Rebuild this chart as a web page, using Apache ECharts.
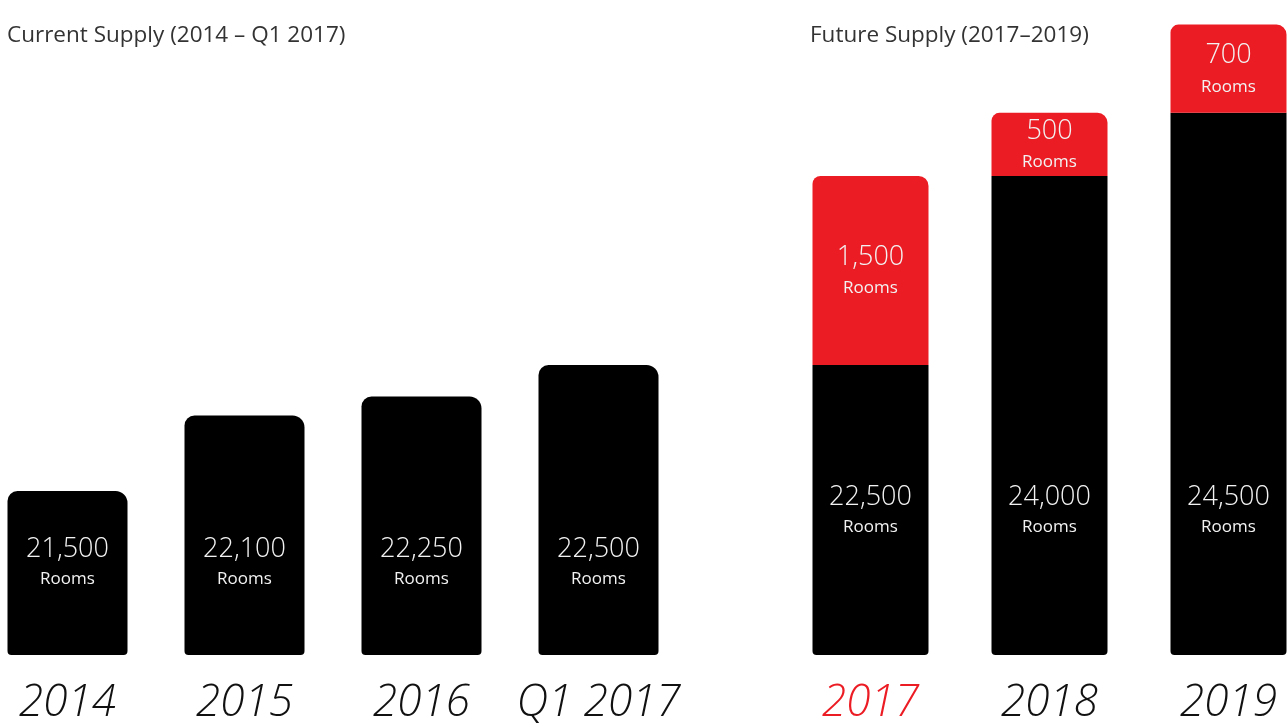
<!DOCTYPE html>
<html>
<head>
<meta charset="utf-8">
<script src="https://cdn.jsdelivr.net/npm/echarts@6/dist/echarts.min.js"></script>
<style>
html,body{margin:0;padding:0;background:#fff;}
#chart{width:1288px;height:725px;}
</style>
</head>
<body>
<div id="chart"></div>
<script>
// ---- data ----
const currentCategories = ['2014', '2015', '2016', 'Q1 2017'];
const currentRooms = [21500, 22100, 22250, 22500];
const futureCategories = ['2017', '2018', '2019'];
const futureExisting = [22500, 24000, 24500];
const futureAdded = [1500, 500, 700];
const titles = ['Current Supply (2014 – Q1 2017)', 'Future Supply (2017–2019)'];
const unitLabel = 'Rooms';

const RED = '#ec1c24';
const fmt = v => v.toLocaleString('en-US');

const chart = echarts.init(document.getElementById('chart'));

const yAxisBase = {
  type: 'value', min: 20200, max: 25300,
  show: false, splitLine: { show: false }
};
const xAxisBase = {
  type: 'category',
  axisLine: { show: false }, axisTick: { show: false },
  axisLabel: {
    interval: 0,
    fontFamily: 'Open Sans', fontStyle: 'italic', fontWeight: 300,
    fontSize: 44, color: '#111', margin: 26
  }
};
const richLabel = (valSize, gap) => ({
  v: { fontFamily: 'Open Sans', fontWeight: 300, fontSize: valSize, color: '#f2f2f2', lineHeight: gap },
  r: { fontFamily: 'Open Sans', fontWeight: 400, fontSize: 17, color: '#f2f2f2', lineHeight: 26 }
});
const titleStyle = { fontFamily: 'Open Sans', fontWeight: 400, fontSize: 22.5, color: '#333' };

chart.setOption({
  animation: false,
  title: [
    { text: titles[0], left: 2, top: 19, textStyle: titleStyle },
    { text: titles[1], left: 805, top: 19, textStyle: titleStyle }
  ],
  grid: [
    { left: -21, width: 708, top: 12, bottom: 70, outerBoundsMode: 'none', containLabel: false },
    { left: 781, width: 537, top: 12, bottom: 70, outerBoundsMode: 'none', containLabel: false }
  ],
  xAxis: [
    Object.assign({}, xAxisBase, { gridIndex: 0, data: currentCategories }),
    Object.assign({}, xAxisBase, { gridIndex: 1, data: futureCategories.map((c, i) => i === 0 ? { value: c, textStyle: { color: RED } } : c) })
  ],
  yAxis: [
    Object.assign({}, yAxisBase, { gridIndex: 0 }),
    Object.assign({}, yAxisBase, { gridIndex: 1 })
  ],
  series: [
    {
      type: 'bar', xAxisIndex: 0, yAxisIndex: 0, data: currentRooms, barWidth: 120,
      itemStyle: { color: '#000', borderRadius: [10, 12, 4, 4] },
      label: {
        show: true, position: 'insideBottom', distance: 63,
        formatter: p => '{v|' + fmt(p.value) + '}\n{r|' + unitLabel + '}',
        rich: richLabel(27, 34)
      }
    },
    {
      type: 'bar', xAxisIndex: 1, yAxisIndex: 1, stack: 'f', data: futureExisting, barWidth: 116,
      itemStyle: { color: '#000', borderRadius: [0, 0, 4, 4] },
      label: {
        show: true, position: 'insideBottom', distance: 115,
        formatter: p => '{v|' + fmt(p.value) + '}\n{r|' + unitLabel + '}',
        rich: richLabel(27, 34)
      }
    },
    {
      type: 'bar', xAxisIndex: 1, yAxisIndex: 1, stack: 'f', data: futureAdded, barWidth: 116,
      itemStyle: { color: RED, borderRadius: [8, 10, 0, 0] },
      label: {
        show: true, position: 'inside',
        formatter: p => '{v|' + fmt(p.value) + '}\n{r|' + unitLabel + '}',
        rich: richLabel(27, 36)
      }
    }
  ]
});
</script>
</body>
</html>
